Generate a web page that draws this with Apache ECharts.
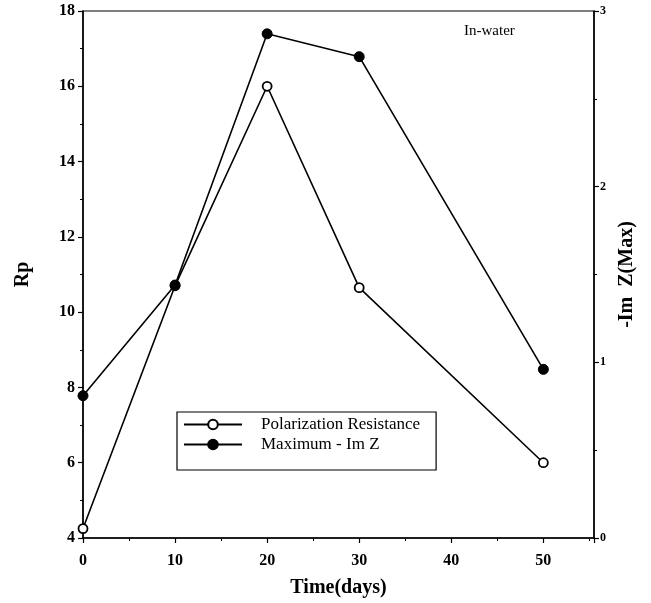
<!DOCTYPE html>
<html><head><meta charset="utf-8">
<script src="https://cdn.jsdelivr.net/npm/echarts@6/dist/echarts.min.js"></script>
<style>html,body{margin:0;padding:0;background:#fff}#c{width:651px;height:603px}</style>
</head><body><div id="c"></div>
<script>
const days = [0, 10, 20, 30, 50];
const polarizationResistance = [4.25, 10.7, 16.0, 10.65, 6.0];
const maxImZ = [0.81, 1.44, 2.87, 2.74, 0.96];
const xTicks = [0, 10, 20, 30, 40, 50];
const leftTicks = [4, 6, 8, 10, 12, 14, 16, 18];
const rightTicks = [0, 1, 2, 3];

const serif = '"Liberation Serif", "DejaVu Serif", serif';
const chart = echarts.init(document.getElementById('c'), null, {renderer: 'canvas'});
const axisCommon = {
  axisLine: {show: true, lineStyle: {color: '#000', width: 1.5}},
  axisTick: {show: true, inside: false, length: 5, lineStyle: {color: '#000', width: 1.2}},
  minorTick: {show: true, splitNumber: 2, length: 3, lineStyle: {color: '#000'}},
  splitLine: {show: false},
  axisLabel: {color: '#000', fontFamily: serif, fontSize: 16, fontWeight: 'bold'}
};
chart.setOption({
  animation: false,
  backgroundColor: '#fff',
  grid: {left: 83, right: 57, top: 11, bottom: 65, show: true, borderColor: '#000', borderWidth: 1.2},
  xAxis: Object.assign({}, axisCommon, {
    type: 'value', min: xTicks[0], max: 55.5, interval: 10,
    name: 'Time(days)', nameLocation: 'middle', nameGap: 40,
    nameTextStyle: {color: '#000', fontFamily: serif, fontSize: 20, fontWeight: 'bold'},
    axisLabel: Object.assign({}, axisCommon.axisLabel, {margin: 15,
      formatter: v => xTicks.includes(v) ? String(v) : ''})
  }),
  yAxis: [
    Object.assign({}, axisCommon, {
      type: 'value', position: 'left', min: leftTicks[0], max: leftTicks[leftTicks.length - 1], interval: 2,
      name: 'Rp', nameLocation: 'middle', nameGap: 50, nameRotate: 90,
      nameTextStyle: {color: '#000', fontFamily: serif, fontSize: 20, fontWeight: 'bold'}
    }),
    Object.assign({}, axisCommon, {
      type: 'value', position: 'right', min: rightTicks[0], max: rightTicks[rightTicks.length - 1], interval: 1,
      name: '-Im  Z(Max)', nameLocation: 'middle', nameGap: 22, nameRotate: 90,
      nameTextStyle: {color: '#000', fontFamily: serif, fontSize: 20, fontWeight: 'bold'},
      axisLabel: Object.assign({}, axisCommon.axisLabel, {fontSize: 12, margin: 6})
    })
  ],
  legend: {
    show: true, orient: 'vertical', left: 177, top: 412,
    padding: [4, 16, 17, 6], itemGap: 3, itemWidth: 58, itemHeight: 12,
    borderColor: '#000', borderWidth: 1.2, backgroundColor: '#fff',
    textStyle: {color: '#000', fontFamily: serif, fontSize: 17, padding: [0, 0, 0, 14]},
    data: ['Polarization Resistance', 'Maximum - Im Z']
  },
  graphic: [{
    type: 'text', left: 464, top: 24,
    style: {text: 'In-water', fill: '#000', font: '15px "Liberation Serif", serif'}
  }],
  series: [
    {
      name: 'Polarization Resistance', type: 'line', yAxisIndex: 0,
      data: days.map((d, i) => [d, polarizationResistance[i]]),
      symbol: 'circle', symbolSize: 9,
      lineStyle: {color: '#000', width: 1.6},
      itemStyle: {color: '#fff', borderColor: '#000', borderWidth: 1.8}
    },
    {
      name: 'Maximum - Im Z', type: 'line', yAxisIndex: 1,
      data: days.map((d, i) => [d, maxImZ[i]]),
      symbol: 'circle', symbolSize: 10,
      lineStyle: {color: '#000', width: 1.6},
      itemStyle: {color: '#000', borderColor: '#000', borderWidth: 1}
    }
  ]
});
</script></body></html>
